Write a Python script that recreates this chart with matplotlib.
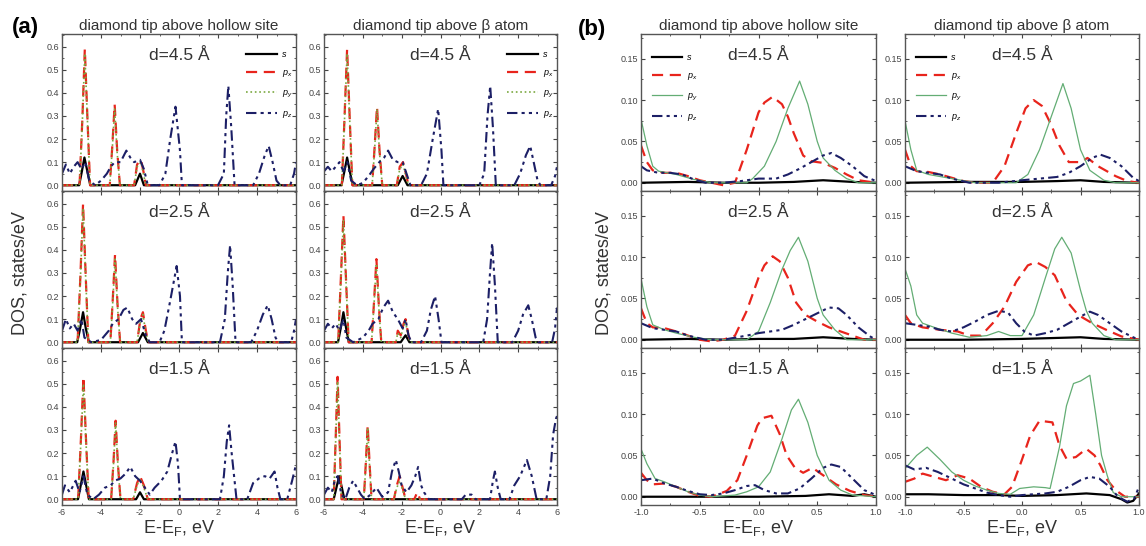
import matplotlib
matplotlib.use('agg')
import matplotlib.pyplot as plt
from matplotlib.ticker import MultipleLocator, FormatStrFormatter

plt.rcParams['font.family'] = ['Liberation Sans', 'DejaVu Sans']
plt.rcParams['mathtext.default'] = 'regular'

# Labels
column_titles = ['diamond tip above hollow site', 'diamond tip above \u03b2 atom']
distance_labels = ['d=4.5 \u00c5', 'd=2.5 \u00c5', 'd=1.5 \u00c5']
orbital_labels = ['s', 'p$_x$', 'p$_y$', 'p$_z$']

# ---- panel (a): wide energy window, (E, DOS) points ----
a_hollow_45_s = [(-6, 0), (-5.12, 0), (-4.98, 0.06), (-4.85, 0.12), (-4.7, 0.06), (-4.55, 0), (-2.25, 0), (-2.0, 0.05), (-1.8, 0), (6, 0)]
a_hollow_45_px = [(-6, 0), (-5.1, 0), (-4.95, 0.3), (-4.83, 0.59), (-4.7, 0.3), (-4.56, 0), (-3.55, 0), (-3.42, 0.17), (-3.3, 0.35), (-3.17, 0.15), (-3.03, 0), (-2.3, 0), (-2.15, 0.09), (-1.95, 0.11), (-1.8, 0.05), (-1.7, 0), (6, 0)]
a_hollow_45_py = [(-6, 0), (-5.1, 0), (-4.95, 0.29), (-4.83, 0.57), (-4.7, 0.29), (-4.56, 0), (-3.55, 0), (-3.42, 0.16), (-3.3, 0.33), (-3.17, 0.14), (-3.03, 0), (-2.3, 0), (-2.15, 0.08), (-1.95, 0.1), (-1.8, 0.04), (-1.7, 0), (6, 0)]
a_hollow_45_pz = [(-6, 0.05), (-5.8, 0.09), (-5.6, 0.05), (-5.4, 0.08), (-5.2, 0.1), (-5.0, 0.07), (-4.8, 0.1), (-4.6, 0.02), (-4.3, 0), (-4.0, 0.02), (-3.7, 0.05), (-3.5, 0.08), (-3.3, 0.1), (-3.0, 0.1), (-2.7, 0.15), (-2.5, 0.12), (-2.3, 0.1), (-2.0, 0.11), (-1.8, 0.07), (-1.6, 0), (-1.0, 0), (-0.7, 0.05), (-0.45, 0.2), (-0.18, 0.34), (0.05, 0.15), (0.15, 0), (2.0, 0), (2.3, 0.05), (2.42, 0.3), (2.53, 0.43), (2.68, 0.25), (2.85, 0), (3.8, 0), (4.1, 0.05), (4.4, 0.13), (4.6, 0.17), (4.8, 0.1), (5.0, 0.02), (5.2, 0), (5.7, 0), (5.9, 0.05), (6, 0.1)]

a_hollow_25_s = [(-6, 0), (-5.22, 0), (-5.07, 0.06), (-4.92, 0.13), (-4.78, 0.06), (-4.62, 0), (-2.1, 0), (-1.85, 0.04), (-1.6, 0), (6, 0)]
a_hollow_25_px = [(-6, 0), (-5.2, 0), (-5.05, 0.3), (-4.92, 0.6), (-4.79, 0.3), (-4.65, 0), (-3.52, 0), (-3.4, 0.18), (-3.28, 0.38), (-3.15, 0.16), (-3.02, 0), (-2.15, 0), (-1.98, 0.1), (-1.85, 0.13), (-1.7, 0.05), (-1.58, 0), (6, 0)]
a_hollow_25_py = [(-6, 0), (-5.2, 0), (-5.05, 0.29), (-4.92, 0.58), (-4.79, 0.29), (-4.65, 0), (-3.52, 0), (-3.4, 0.17), (-3.28, 0.36), (-3.15, 0.15), (-3.02, 0), (-2.15, 0), (-1.98, 0.09), (-1.85, 0.12), (-1.7, 0.04), (-1.58, 0), (6, 0)]
a_hollow_25_pz = [(-6, 0.05), (-5.8, 0.1), (-5.6, 0.06), (-5.4, 0.08), (-5.2, 0.05), (-5.0, 0.1), (-4.85, 0.02), (-4.5, 0), (-4.0, 0.01), (-3.6, 0.05), (-3.4, 0.08), (-3.1, 0.1), (-2.85, 0.14), (-2.65, 0.15), (-2.4, 0.1), (-2.2, 0.08), (-1.95, 0.1), (-1.7, 0.03), (-1.5, 0), (-1.0, 0), (-0.75, 0.05), (-0.45, 0.18), (-0.12, 0.33), (0.05, 0.2), (0.15, 0), (2.1, 0), (2.35, 0.1), (2.5, 0.3), (2.62, 0.42), (2.75, 0.25), (2.9, 0), (3.7, 0), (4.0, 0.05), (4.3, 0.12), (4.55, 0.16), (4.75, 0.1), (4.95, 0.02), (5.1, 0), (5.75, 0), (5.9, 0.05), (6, 0.1)]

a_hollow_15_s = [(-6, 0), (-5.18, 0), (-5.04, 0.06), (-4.9, 0.12), (-4.76, 0.06), (-4.62, 0), (-2.2, 0), (-2.0, 0.03), (-1.8, 0), (6, 0)]
a_hollow_15_px = [(-6, 0), (-5.17, 0), (-5.03, 0.26), (-4.9, 0.53), (-4.77, 0.26), (-4.63, 0), (-3.48, 0), (-3.36, 0.16), (-3.25, 0.34), (-3.13, 0.15), (-3.0, 0), (-2.35, 0), (-2.15, 0.07), (-2.0, 0.1), (-1.8, 0.06), (-1.6, 0), (6, 0)]
a_hollow_15_py = [(-6, 0), (-5.17, 0), (-5.03, 0.25), (-4.9, 0.5), (-4.77, 0.25), (-4.63, 0), (-3.48, 0), (-3.36, 0.15), (-3.25, 0.33), (-3.13, 0.14), (-3.0, 0), (-2.35, 0), (-2.15, 0.06), (-2.0, 0.09), (-1.8, 0.05), (-1.6, 0), (6, 0)]
a_hollow_15_pz = [(-6, 0.02), (-5.85, 0.06), (-5.6, 0.03), (-5.3, 0.08), (-5.1, 0.03), (-4.9, 0.1), (-4.7, 0.02), (-4.4, 0), (-4.1, 0.02), (-3.8, 0.05), (-3.5, 0.06), (-3.3, 0.08), (-3.0, 0.09), (-2.75, 0.11), (-2.5, 0.14), (-2.25, 0.1), (-2.0, 0.08), (-1.75, 0.05), (-1.5, 0.02), (-1.25, 0.05), (-0.9, 0.08), (-0.6, 0.12), (-0.35, 0.2), (-0.18, 0.25), (-0.05, 0.15), (0.05, 0), (2.1, 0), (2.3, 0.1), (2.45, 0.25), (2.57, 0.32), (2.7, 0.2), (2.95, 0), (3.5, 0), (3.8, 0.07), (4.1, 0.09), (4.4, 0.1), (4.65, 0.09), (4.9, 0.12), (5.05, 0.05), (5.2, 0), (5.55, 0), (5.8, 0.08), (6, 0.15)]

a_beta_45_s = [(-6, 0), (-5.1, 0), (-4.95, 0.06), (-4.81, 0.12), (-4.67, 0.06), (-4.52, 0), (-2.2, 0), (-1.95, 0.04), (-1.7, 0), (6, 0)]
a_beta_45_px = [(-6, 0), (-5.08, 0), (-4.94, 0.3), (-4.81, 0.59), (-4.68, 0.3), (-4.54, 0), (-3.52, 0), (-3.39, 0.17), (-3.27, 0.34), (-3.14, 0.15), (-3.0, 0), (-2.25, 0), (-2.1, 0.08), (-1.93, 0.1), (-1.78, 0.05), (-1.65, 0), (6, 0)]
a_beta_45_py = [(-6, 0), (-5.08, 0), (-4.94, 0.29), (-4.81, 0.57), (-4.68, 0.29), (-4.54, 0), (-3.52, 0), (-3.39, 0.16), (-3.27, 0.33), (-3.14, 0.14), (-3.0, 0), (-2.25, 0), (-2.1, 0.07), (-1.93, 0.09), (-1.78, 0.04), (-1.65, 0), (6, 0)]
a_beta_45_pz = [(-6, 0.06), (-5.8, 0.08), (-5.6, 0.06), (-5.4, 0.08), (-5.2, 0.1), (-5.0, 0.06), (-4.8, 0.1), (-4.6, 0.02), (-4.3, 0), (-4.0, 0.01), (-3.7, 0.04), (-3.45, 0.07), (-3.15, 0.1), (-2.9, 0.12), (-2.7, 0.15), (-2.45, 0.11), (-2.2, 0.1), (-1.95, 0.1), (-1.75, 0.05), (-1.55, 0), (-1.0, 0), (-0.7, 0.05), (-0.4, 0.2), (-0.12, 0.33), (0.05, 0.15), (0.15, 0), (2.0, 0), (2.25, 0.05), (2.42, 0.3), (2.56, 0.43), (2.7, 0.25), (2.85, 0), (3.8, 0), (4.1, 0.05), (4.4, 0.13), (4.62, 0.17), (4.8, 0.1), (5.0, 0.02), (5.15, 0), (5.7, 0), (5.9, 0.04), (6, 0.08)]

a_beta_25_s = [(-6, 0), (-5.28, 0), (-5.14, 0.06), (-5.0, 0.13), (-4.86, 0.06), (-4.72, 0), (-2.05, 0), (-1.8, 0.03), (-1.6, 0), (6, 0)]
a_beta_25_px = [(-6, 0), (-5.27, 0), (-5.13, 0.28), (-5.0, 0.55), (-4.87, 0.28), (-4.73, 0), (-3.55, 0), (-3.42, 0.18), (-3.3, 0.36), (-3.17, 0.15), (-3.05, 0), (-2.3, 0), (-2.2, 0.05), (-2.05, 0.03), (-1.9, 0.08), (-1.8, 0.1), (-1.65, 0.03), (-1.55, 0), (6, 0)]
a_beta_25_py = [(-6, 0), (-5.27, 0), (-5.13, 0.27), (-5.0, 0.53), (-4.87, 0.27), (-4.73, 0), (-3.55, 0), (-3.42, 0.17), (-3.3, 0.34), (-3.17, 0.14), (-3.05, 0), (-2.3, 0), (-2.2, 0.04), (-2.05, 0.02), (-1.9, 0.07), (-1.8, 0.09), (-1.65, 0.02), (-1.55, 0), (6, 0)]
a_beta_25_pz = [(-6, 0.05), (-5.8, 0.08), (-5.6, 0.06), (-5.4, 0.08), (-5.2, 0.05), (-5.0, 0.1), (-4.85, 0.02), (-4.5, 0), (-4.0, 0.02), (-3.7, 0.05), (-3.5, 0.08), (-3.2, 0.1), (-2.95, 0.15), (-2.7, 0.18), (-2.45, 0.13), (-2.2, 0.1), (-1.95, 0.06), (-1.8, 0.1), (-1.65, 0.03), (-1.5, 0), (-1.0, 0), (-0.7, 0.05), (-0.5, 0.14), (-0.28, 0.2), (-0.1, 0.1), (0.05, 0), (2.2, 0), (2.4, 0.1), (2.55, 0.3), (2.66, 0.43), (2.8, 0.25), (2.95, 0), (3.7, 0), (4.0, 0.05), (4.25, 0.12), (4.52, 0.16), (4.7, 0.1), (4.9, 0.02), (5.05, 0), (5.75, 0), (5.9, 0.06), (6, 0.15)]

a_beta_15_s = [(-6, 0), (-5.5, 0), (-5.36, 0.05), (-5.22, 0.1), (-5.08, 0.05), (-4.95, 0), (6, 0)]
a_beta_15_px = [(-6, 0), (-5.5, 0), (-5.4, 0.26), (-5.3, 0.53), (-5.2, 0.26), (-5.1, 0), (-3.95, 0), (-3.85, 0.15), (-3.75, 0.32), (-3.65, 0.15), (-3.55, 0), (-2.4, 0), (-2.25, 0.06), (-2.1, 0.1), (-1.95, 0.05), (-1.8, 0), (-1.35, 0), (-1.2, 0.03), (-1.05, 0), (6, 0)]
a_beta_15_py = [(-6, 0), (-5.5, 0), (-5.4, 0.25), (-5.3, 0.51), (-5.2, 0.25), (-5.1, 0), (-3.95, 0), (-3.85, 0.14), (-3.75, 0.31), (-3.65, 0.14), (-3.55, 0), (-2.4, 0), (-2.25, 0.05), (-2.1, 0.08), (-1.95, 0.04), (-1.8, 0), (6, 0)]
a_beta_15_pz = [(-6, 0.02), (-5.8, 0.05), (-5.6, 0.03), (-5.45, 0.08), (-5.3, 0.1), (-5.1, 0.02), (-4.9, 0), (-4.7, 0.05), (-4.5, 0.08), (-4.3, 0.05), (-4.1, 0.02), (-3.9, 0), (-3.6, 0.02), (-3.3, 0.05), (-3.0, 0.01), (-2.7, 0.03), (-2.5, 0.12), (-2.3, 0.17), (-2.15, 0.12), (-2.0, 0.06), (-1.75, 0.03), (-1.5, 0.06), (-1.3, 0.1), (-1.15, 0.14), (-1.0, 0.06), (-0.85, 0.03), (-0.6, 0), (1.1, 0), (1.3, 0.02), (1.6, 0.02), (1.8, 0), (2.55, 0), (2.7, 0.08), (2.8, 0.12), (2.95, 0.05), (3.1, 0), (3.55, 0), (3.8, 0.06), (4.1, 0.1), (4.45, 0.17), (4.7, 0.1), (4.95, 0), (5.45, 0), (5.65, 0.1), (5.8, 0.28), (5.95, 0.35), (6, 0.36)]

# ---- panel (b): narrow window around the Fermi level ----
b_hollow_45_s = [(-1.0, 0), (-0.6, 0.001), (-0.3, 0), (0.0, 0), (0.3, 0.001), (0.55, 0.003), (0.8, 0.001), (1.0, 0)]
b_hollow_45_px = [(-1.0, 0.045), (-0.95, 0.025), (-0.9, 0.015), (-0.8, 0.012), (-0.7, 0.012), (-0.6, 0.008), (-0.5, 0.003), (-0.4, 0.0), (-0.3, -0.003), (-0.2, 0.0), (-0.1, 0.04), (0.0, 0.085), (0.05, 0.097), (0.12, 0.104), (0.2, 0.095), (0.25, 0.08), (0.3, 0.06), (0.38, 0.033), (0.45, 0.026), (0.55, 0.024), (0.65, 0.018), (0.75, 0.01), (0.85, 0.003), (1.0, 0.0)]
b_hollow_45_py = [(-1.0, 0.077), (-0.95, 0.045), (-0.9, 0.02), (-0.85, 0.014), (-0.7, 0.01), (-0.55, 0.004), (-0.4, 0.0), (-0.1, 0.0), (-0.05, 0.005), (0.05, 0.02), (0.15, 0.05), (0.25, 0.09), (0.35, 0.123), (0.42, 0.095), (0.5, 0.05), (0.55, 0.03), (0.65, 0.015), (0.75, 0.005), (0.85, 0.0), (1.0, 0.0)]
b_hollow_45_pz = [(-1.0, 0.02), (-0.95, 0.015), (-0.85, 0.012), (-0.75, 0.012), (-0.65, 0.01), (-0.55, 0.004), (-0.45, 0.0), (-0.3, 0.0), (-0.15, 0.002), (0.0, 0.005), (0.15, 0.005), (0.25, 0.01), (0.35, 0.017), (0.45, 0.025), (0.55, 0.033), (0.62, 0.036), (0.7, 0.03), (0.8, 0.02), (0.9, 0.008), (1.0, 0.002)]

b_hollow_25_s = [(-1.0, 0), (-0.6, 0.001), (-0.3, 0), (0.0, 0.001), (0.3, 0.001), (0.55, 0.003), (0.8, 0.001), (1.0, 0)]
b_hollow_25_px = [(-1.0, 0.038), (-0.95, 0.02), (-0.9, 0.015), (-0.8, 0.014), (-0.7, 0.01), (-0.6, 0.005), (-0.5, 0.0), (-0.4, -0.002), (-0.3, 0.0), (-0.2, 0.005), (-0.1, 0.035), (0.0, 0.075), (0.05, 0.09), (0.12, 0.101), (0.18, 0.095), (0.25, 0.075), (0.32, 0.045), (0.4, 0.03), (0.5, 0.022), (0.6, 0.015), (0.7, 0.01), (0.8, 0.005), (0.9, 0.0), (1.0, 0.0)]
b_hollow_25_py = [(-1.0, 0.074), (-0.95, 0.04), (-0.9, 0.018), (-0.8, 0.012), (-0.7, 0.008), (-0.55, 0.003), (-0.4, 0.0), (-0.1, 0.0), (0.0, 0.01), (0.1, 0.045), (0.2, 0.085), (0.27, 0.108), (0.34, 0.124), (0.42, 0.095), (0.5, 0.05), (0.55, 0.03), (0.65, 0.012), (0.75, 0.0), (1.0, 0.0)]
b_hollow_25_pz = [(-1.0, 0.02), (-0.9, 0.014), (-0.8, 0.012), (-0.7, 0.01), (-0.6, 0.005), (-0.45, 0.0), (-0.3, 0.0), (-0.1, 0.005), (0.0, 0.008), (0.1, 0.01), (0.2, 0.012), (0.3, 0.018), (0.4, 0.025), (0.5, 0.032), (0.6, 0.039), (0.68, 0.038), (0.75, 0.03), (0.85, 0.015), (0.95, 0.004), (1.0, 0.0)]

b_hollow_15_s = [(-1.0, 0), (-0.5, 0.0), (0.0, 0.0), (0.4, 0.001), (0.6, 0.003), (0.8, 0.001), (0.9, 0.003), (1.0, 0)]
b_hollow_15_px = [(-1.0, 0.029), (-0.95, 0.02), (-0.9, 0.015), (-0.8, 0.016), (-0.7, 0.012), (-0.6, 0.006), (-0.5, 0.001), (-0.4, 0.0), (-0.27, 0.007), (-0.18, 0.02), (-0.1, 0.05), (-0.01, 0.086), (0.03, 0.095), (0.11, 0.098), (0.18, 0.076), (0.24, 0.05), (0.31, 0.035), (0.38, 0.029), (0.46, 0.035), (0.58, 0.023), (0.66, 0.015), (0.78, 0.007), (0.9, 0.002), (1.0, 0.0)]
b_hollow_15_py = [(-1.0, 0.058), (-0.95, 0.04), (-0.88, 0.022), (-0.8, 0.018), (-0.7, 0.012), (-0.6, 0.006), (-0.5, 0.002), (-0.4, 0.0), (-0.2, 0.002), (-0.1, 0.006), (0.0, 0.012), (0.1, 0.03), (0.2, 0.07), (0.28, 0.105), (0.34, 0.118), (0.42, 0.09), (0.5, 0.05), (0.6, 0.02), (0.7, 0.008), (0.8, 0.002), (1.0, 0.0)]
b_hollow_15_pz = [(-1.0, 0.02), (-0.9, 0.022), (-0.8, 0.016), (-0.7, 0.012), (-0.6, 0.007), (-0.5, 0.003), (-0.4, 0.002), (-0.3, 0.004), (-0.2, 0.008), (-0.1, 0.013), (-0.03, 0.014), (0.05, 0.008), (0.15, 0.004), (0.25, 0.004), (0.35, 0.01), (0.45, 0.022), (0.55, 0.035), (0.62, 0.039), (0.7, 0.036), (0.8, 0.022), (0.9, 0.008), (1.0, 0.002)]

b_beta_45_s = [(-1.0, 0), (-0.5, 0.001), (0.0, 0.001), (0.3, 0.002), (0.5, 0.003), (0.7, 0.001), (1.0, 0)]
b_beta_45_px = [(-1.0, 0.04), (-0.95, 0.02), (-0.9, 0.014), (-0.8, 0.013), (-0.7, 0.01), (-0.6, 0.006), (-0.5, 0.002), (-0.4, 0.0), (-0.25, 0.0), (-0.15, 0.02), (-0.05, 0.06), (0.03, 0.09), (0.1, 0.1), (0.17, 0.093), (0.25, 0.07), (0.32, 0.045), (0.4, 0.025), (0.5, 0.025), (0.56, 0.03), (0.65, 0.02), (0.8, 0.008), (0.9, 0.002), (1.0, 0.0)]
b_beta_45_py = [(-1.0, 0.075), (-0.95, 0.04), (-0.9, 0.015), (-0.8, 0.01), (-0.6, 0.005), (-0.4, 0.0), (-0.05, 0.0), (0.05, 0.01), (0.15, 0.04), (0.25, 0.08), (0.35, 0.12), (0.42, 0.09), (0.5, 0.04), (0.58, 0.015), (0.7, 0.003), (0.8, 0.0), (1.0, 0.0)]
b_beta_45_pz = [(-1.0, 0.02), (-0.9, 0.014), (-0.8, 0.012), (-0.7, 0.01), (-0.6, 0.005), (-0.45, 0.0), (-0.2, 0.0), (0.0, 0.003), (0.15, 0.005), (0.3, 0.007), (0.4, 0.012), (0.5, 0.02), (0.6, 0.03), (0.67, 0.034), (0.75, 0.03), (0.85, 0.02), (0.95, 0.006), (1.0, 0.002)]

b_beta_25_s = [(-1.0, 0), (-0.5, 0.0), (0.0, 0.001), (0.5, 0.003), (0.7, 0.001), (1.0, 0)]
b_beta_25_px = [(-1.0, 0.03), (-0.95, 0.02), (-0.85, 0.015), (-0.7, 0.012), (-0.55, 0.01), (-0.45, 0.005), (-0.35, 0.005), (-0.25, 0.02), (-0.15, 0.04), (-0.05, 0.07), (0.05, 0.09), (0.12, 0.094), (0.2, 0.088), (0.28, 0.078), (0.38, 0.047), (0.48, 0.03), (0.6, 0.02), (0.72, 0.012), (0.85, 0.004), (1.0, 0.0)]
b_beta_25_py = [(-1.0, 0.086), (-0.95, 0.065), (-0.9, 0.03), (-0.85, 0.02), (-0.75, 0.015), (-0.6, 0.008), (-0.45, 0.003), (-0.3, 0.005), (-0.2, 0.01), (-0.1, 0.005), (0.0, 0.005), (0.1, 0.03), (0.2, 0.075), (0.28, 0.11), (0.34, 0.124), (0.42, 0.105), (0.5, 0.06), (0.55, 0.035), (0.6, 0.02), (0.7, 0.005), (0.8, 0.0), (1.0, 0.0)]
b_beta_25_pz = [(-1.0, 0.02), (-0.9, 0.018), (-0.8, 0.016), (-0.7, 0.012), (-0.6, 0.01), (-0.5, 0.015), (-0.4, 0.022), (-0.3, 0.03), (-0.2, 0.035), (-0.12, 0.033), (-0.05, 0.02), (0.02, 0.01), (0.1, 0.005), (0.2, 0.008), (0.3, 0.012), (0.4, 0.02), (0.5, 0.028), (0.58, 0.034), (0.65, 0.03), (0.75, 0.02), (0.85, 0.01), (0.95, 0.003), (1.0, 0.0)]

b_beta_15_s = [(-1.0, 0.003), (-0.8, 0.003), (-0.5, 0.002), (-0.2, 0.002), (0.0, 0.001), (0.3, 0.002), (0.55, 0.004), (0.75, 0.002), (0.85, -0.003), (0.9, -0.007), (0.95, -0.005), (1.0, 0.004)]
b_beta_15_px = [(-1.0, 0.018), (-0.92, 0.022), (-0.85, 0.028), (-0.75, 0.024), (-0.65, 0.02), (-0.55, 0.026), (-0.45, 0.022), (-0.35, 0.012), (-0.25, 0.006), (-0.15, 0.003), (-0.085, 0.012), (0.0, 0.045), (0.07, 0.074), (0.15, 0.092), (0.26, 0.09), (0.32, 0.062), (0.38, 0.046), (0.46, 0.048), (0.55, 0.058), (0.62, 0.05), (0.67, 0.038), (0.73, 0.02), (0.8, 0.008), (0.88, 0.0), (1.0, 0.0)]
b_beta_15_py = [(-1.0, 0.034), (-0.9, 0.05), (-0.81, 0.06), (-0.7, 0.045), (-0.6, 0.03), (-0.5, 0.02), (-0.4, 0.013), (-0.3, 0.008), (-0.2, 0.004), (-0.1, 0.003), (-0.02, 0.01), (0.1, 0.012), (0.2, 0.011), (0.24, 0.01), (0.32, 0.06), (0.38, 0.11), (0.44, 0.137), (0.5, 0.14), (0.58, 0.147), (0.63, 0.1), (0.68, 0.05), (0.73, 0.025), (0.78, 0.005), (0.85, 0.0), (1.0, 0.0)]
b_beta_15_pz = [(-1.0, 0.038), (-0.92, 0.033), (-0.82, 0.035), (-0.72, 0.03), (-0.6, 0.022), (-0.5, 0.015), (-0.4, 0.01), (-0.3, 0.005), (-0.2, 0.002), (-0.1, 0.0), (0.0, 0.002), (0.1, 0.003), (0.2, 0.004), (0.3, 0.006), (0.4, 0.012), (0.5, 0.02), (0.58, 0.024), (0.66, 0.022), (0.75, 0.012), (0.82, 0.0), (0.9, -0.006), (0.96, -0.002), (1.0, 0.012)]

# grid[row][col] -> [s, px, py, pz]
panel_a = [
    [[a_hollow_45_s, a_hollow_45_px, a_hollow_45_py, a_hollow_45_pz], [a_beta_45_s, a_beta_45_px, a_beta_45_py, a_beta_45_pz]],
    [[a_hollow_25_s, a_hollow_25_px, a_hollow_25_py, a_hollow_25_pz], [a_beta_25_s, a_beta_25_px, a_beta_25_py, a_beta_25_pz]],
    [[a_hollow_15_s, a_hollow_15_px, a_hollow_15_py, a_hollow_15_pz], [a_beta_15_s, a_beta_15_px, a_beta_15_py, a_beta_15_pz]],
]
panel_b = [
    [[b_hollow_45_s, b_hollow_45_px, b_hollow_45_py, b_hollow_45_pz], [b_beta_45_s, b_beta_45_px, b_beta_45_py, b_beta_45_pz]],
    [[b_hollow_25_s, b_hollow_25_px, b_hollow_25_py, b_hollow_25_pz], [b_beta_25_s, b_beta_25_px, b_beta_25_py, b_beta_25_pz]],
    [[b_hollow_15_s, b_hollow_15_px, b_hollow_15_py, b_hollow_15_pz], [b_beta_15_s, b_beta_15_px, b_beta_15_py, b_beta_15_pz]],
]

W, H = 1146, 546
fig = plt.figure(figsize=(W / 100, H / 100), dpi=100)

# column left edges / widths in pixels
a_cols = [(62, 234), (324, 233)]
b_cols = [(641, 235), (905, 234)]
row_tops = [34, 191, 348]
row_h = 157


def line_styles(p_y_solid):
    return [dict(color='black', lw=1.6, ls='-'),
            dict(color='#e8241c', lw=1.6, dashes=(5, 3)),
            dict(color='#7aa840', lw=1.2, ls=':') if not p_y_solid else dict(color='#63ad74', lw=0.9, ls='-'),
            dict(color='#1c1f66', lw=1.5, dashes=(5, 2, 1.5, 2, 1.5, 2))]


def draw_panel(cols, data, xlim, ylim, xmajor, xminor, ymajor, yminor, yfmt, xfmt, leg_loc, leg_anchor, solid_py):
    styles = line_styles(solid_py)
    for r in range(3):
        for c in range(2):
            x0, w = cols[c]
            ax = fig.add_axes([x0 / W, 1 - (row_tops[r] + row_h) / H, w / W, row_h / H])
            for k in range(4):
                pts = data[r][c][k]
                ax.plot([p[0] for p in pts], [p[1] for p in pts], label=orbital_labels[k], **styles[k])
            ax.set_xlim(*xlim)
            ax.set_ylim(*ylim)
            ax.xaxis.set_major_locator(MultipleLocator(xmajor))
            ax.xaxis.set_minor_locator(MultipleLocator(xminor))
            ax.yaxis.set_major_locator(MultipleLocator(ymajor))
            ax.yaxis.set_minor_locator(MultipleLocator(yminor))
            ax.yaxis.set_major_formatter(FormatStrFormatter(yfmt))
            ax.xaxis.set_major_formatter(FormatStrFormatter(xfmt))
            ax.tick_params(which='both', direction='in', top=True, right=True, labelsize=6.5, colors='#444444', pad=2)
            ax.tick_params(which='major', length=3)
            ax.tick_params(which='minor', length=1.5)
            for sp in ax.spines.values():
                sp.set_color('#555555')
                sp.set_linewidth(1.0)
            ax.text(0.5, 0.86, distance_labels[r], transform=ax.transAxes, ha='center', va='center',
                    fontsize=12.5, color='#333333')
            if r < 2:
                ax.tick_params(labelbottom=False)
            else:
                ax.set_xlabel('E-E$_F$, eV', fontsize=13, labelpad=1, color='#333333')
            if r == 0:
                ax.legend(loc=leg_loc, bbox_to_anchor=leg_anchor, frameon=False,
                          handlelength=3.4, labelspacing=1.0, borderaxespad=0, handletextpad=0.5,
                          prop={'style': 'italic', 'size': 6.5})
                ax.set_title(column_titles[c], fontsize=11, pad=3, color='#333333')


draw_panel(a_cols, panel_a, (-6, 6), (-0.025, 0.655), 2, 1, 0.1, 0.05, '%.1f', '%.0f',
           'upper right', (1.0, 0.92), False)
draw_panel(b_cols, panel_b, (-1, 1), (-0.01, 0.18), 0.5, 0.25, 0.05, 0.025, '%.2f', '%.1f',
           'upper left', (0.03, 0.9), True)

fig.text(20 / W, 0.5, 'DOS, states/eV', rotation=90, ha='center', va='center', fontsize=13, color='#333333')
fig.text(604 / W, 0.5, 'DOS, states/eV', rotation=90, ha='center', va='center', fontsize=13, color='#333333')
fig.text(25 / W, 1 - 27 / H, '(a)', ha='center', va='center', fontsize=16, fontweight='bold')
fig.text(592 / W, 1 - 29 / H, '(b)', ha='center', va='center', fontsize=16, fontweight='bold')

fig.savefig('out.png', dpi=100)
